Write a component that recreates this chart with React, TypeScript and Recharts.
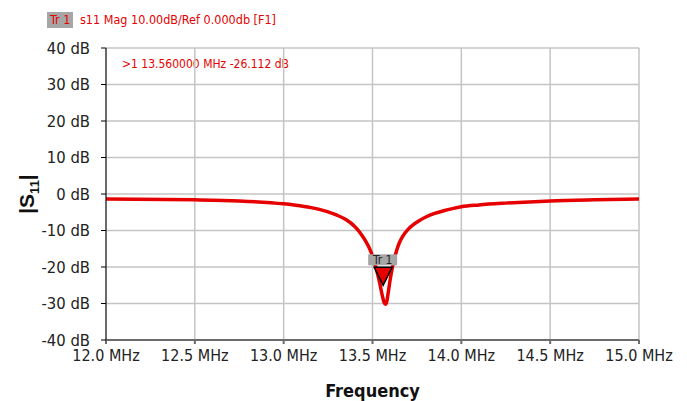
import React from 'react';
import { LineChart, Line, XAxis, YAxis, CartesianGrid, ReferenceDot } from 'recharts';

const freqs = [
  12.0, 12.5, 12.75, 13.0, 13.1, 13.2, 13.25, 13.3, 13.35, 13.4, 13.43, 13.46, 13.48, 13.5,
  13.52, 13.54, 13.555, 13.565, 13.572, 13.58, 13.59, 13.6, 13.61, 13.62, 13.635, 13.65,
  13.67, 13.7, 13.73, 13.76, 13.8, 13.85, 13.9, 13.95, 14.0, 14.1, 14.25, 14.5, 14.75, 15.0,
];
const s11 = [
  -1.4, -1.6, -1.9, -2.7, -3.3, -4.2, -4.9, -5.8, -7.0, -8.9, -10.6, -12.8, -14.6, -17.0,
  -20.2, -24.3, -27.8, -29.7, -30.2, -29.5, -26.5, -23.3, -20.6, -18.3, -15.6, -13.5,
  -11.6, -9.7, -8.4, -7.4, -6.3, -5.3, -4.6, -4.0, -3.5, -3.0, -2.5, -1.9, -1.6, -1.4,
];
const xTicks = [12.0, 12.5, 13.0, 13.5, 14.0, 14.5, 15.0];
const yTicks = [40, 30, 20, 10, 0, -10, -20, -30, -40];
const marker = { f: 13.56, db: -26.112 };

const data = freqs.map((f, i) => ({ f, db: s11[i] }));

const RED = '#e60000';
const FONT = "'Liberation Sans Narrow', 'DejaVu Sans Condensed', 'Liberation Sans', sans-serif";

const MarkerShape = (props: any) => {
  const { cx, cy } = props;
  const tip = cy - 4;
  return (
    <g>
      <polygon
        points={`${cx - 9},${tip - 18} ${cx + 9},${tip - 18} ${cx},${tip}`}
        fill={RED}
        stroke="#000"
        strokeWidth={1.5}
      />
      <rect x={cx - 15} y={tip - 31} width={29} height={11} fill="#a6a6a6" />
      <text x={cx - 0.5} y={tip - 21.5} textAnchor="middle" fontSize={12} fill="#222" fontFamily={FONT}>
        Tr 1
      </text>
    </g>
  );
};

const YLabel = (props: any) => {
  const { viewBox } = props;
  const cx = viewBox.x + 8;
  const cy = viewBox.y + viewBox.height / 2;
  return (
    <text
      transform={`translate(${cx},${cy}) rotate(-90)`}
      textAnchor="middle"
      fontFamily="'Liberation Sans', Arial, sans-serif"
      fontWeight="bold"
      fontSize={21}
      fill="#111"
    >
      |S<tspan fontSize={13} dy={5}>11</tspan>
      <tspan dy={-5}>|</tspan>
    </text>
  );
};

const XLabel = (props: any) => {
  const { viewBox } = props;
  return (
    <text
      x={viewBox.x + viewBox.width / 2}
      y={viewBox.y + 57}
      textAnchor="middle"
      fontFamily={FONT}
      fontWeight="bold"
      fontSize={18}
      fill="#111"
    >
      Frequency
    </text>
  );
};

export default function App() {
  return (
    <div style={{ position: 'fixed', left: 0, top: 0, width: 687, height: 401, background: '#fff' }}>
      <div style={{ position: 'absolute', left: 47, top: 12, height: 16, padding: '0 3px', background: '#a6a6a6', color: RED, fontFamily: FONT, fontSize: 12.5, lineHeight: '16px' }}>
        Tr 1
      </div>
      <div style={{ position: 'absolute', left: 80, top: 12, color: RED, fontFamily: FONT, fontSize: 12.5, lineHeight: '16px' }}>
        s11 Mag 10.00dB/Ref 0.000db [F1]
      </div>
      <div style={{ position: 'absolute', left: 122, top: 57, color: RED, fontFamily: FONT, fontSize: 12, lineHeight: '15px' }}>
        &gt;1 13.560000 MHz -26.112 dB
      </div>
      <LineChart width={687} height={401} data={data} margin={{ top: 48, right: 48, bottom: 31, left: 26 }}>
        <CartesianGrid stroke="#c4c4c4" strokeWidth={1.5} />
        <XAxis
          type="number"
          dataKey="f"
          domain={[12, 15]}
          ticks={xTicks}
          tickFormatter={(v: number) => `${v.toFixed(1)} MHz`}
          height={30}
          stroke="#6b6b6b"
          strokeWidth={2}
          tickSize={4}
          tickMargin={6}
          tick={{ fill: '#222', fontSize: 16, fontFamily: FONT }}
          label={<XLabel />}
        />
        <YAxis
          type="number"
          domain={[-40, 40]}
          ticks={yTicks}
          tickFormatter={(v: number) => `${v} dB`}
          width={80}
          stroke="#000"
          tickSize={5}
          tickMargin={11}
          tick={{ fill: '#222', fontSize: 16.5, fontFamily: FONT }}
          label={<YLabel />}
        />
        <Line
          type="monotone"
          dataKey="db"
          stroke={RED}
          strokeWidth={3.5}
          dot={false}
          isAnimationActive={false}
        />
        <ReferenceDot x={marker.f} y={marker.db} shape={<MarkerShape />} />
      </LineChart>
    </div>
  );
}
